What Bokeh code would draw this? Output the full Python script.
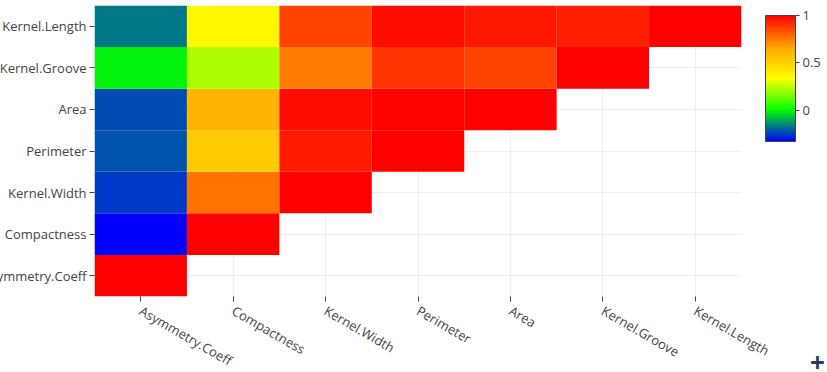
from bokeh.plotting import figure
from bokeh.models import (ColumnDataSource, LinearColorMapper, ColorBar, FixedTicker,
                          FactorRange, Label)
from bokeh.embed import file_html
from bokeh.resources import INLINE
import math

# ---- data ----
variables = ["Asymmetry.Coeff", "Compactness", "Kernel.Width", "Perimeter",
             "Area", "Kernel.Groove", "Kernel.Length"]
row_asym = [1.0]
row_compact = [-0.331, 1.0]
row_width = [-0.258, 0.762, 1.0]
row_perim = [-0.217, 0.529, 0.945, 1.0]
row_area = [-0.230, 0.608, 0.971, 0.994, 1.0]
row_groove = [-0.011, 0.227, 0.749, 0.891, 0.864, 1.0]
row_length = [-0.172, 0.368, 0.860, 0.972, 0.950, 0.933, 1.0]
rows = [row_asym, row_compact, row_width, row_perim, row_area, row_groove, row_length]
cbar_ticks = [0, 0.5, 1]
cbar_labels = ["0", "0.5", "1"]

xs, ys, rs = [], [], []
for j, row in enumerate(rows):
    for i, v in enumerate(row):
        xs.append(variables[i]); ys.append(variables[j]); rs.append(v)

# colorscale stops: blue, lime, yellow, orange, red
stops = [(0.0, (0, 0, 255)), (0.25, (0, 255, 0)), (0.5, (255, 255, 0)),
         (0.75, (255, 165, 0)), (1.0, (255, 0, 0))]
def interp(t):
    for k in range(len(stops) - 1):
        t0, c0 = stops[k]; t1, c1 = stops[k + 1]
        if t <= t1:
            f = (t - t0) / (t1 - t0)
            return "#%02x%02x%02x" % tuple(int(round(c0[m] + (c1[m] - c0[m]) * f)) for m in range(3))
    return "#ff0000"
palette = [interp(k / 255) for k in range(256)]
mapper = LinearColorMapper(palette=palette, low=min(rs), high=max(rs))
src = ColumnDataSource(dict(x=xs, y=ys, r=rs))

FONT = "Open Sans"
p = figure(width=863, height=380, x_range=FactorRange(*variables), y_range=FactorRange(*variables),
           output_backend="svg", toolbar_location=None,
           min_border_left=130, min_border_right=86, min_border_top=5, min_border_bottom=84)
p.outline_line_color = None
p.rect(x="x", y="y", width=1, height=1, source=src,
       fill_color={"field": "r", "transform": mapper}, line_color=None)
p.grid.grid_line_color = "#eeeeee"
for ax in (p.xaxis, p.yaxis):
    ax.axis_line_color = None
    ax.major_tick_in = 0
    ax.major_tick_out = 5
    ax.major_tick_line_color = "#444444"
    ax.major_label_text_font = FONT
    ax.major_label_text_font_size = "13px"
    ax.major_label_text_color = "#444444"
p.xaxis.major_label_orientation = -math.pi / 6
p.xaxis.major_label_standoff = 8
p.yaxis.major_label_standoff = 3

cb = ColorBar(color_mapper=mapper, ticker=FixedTicker(ticks=cbar_ticks),
              major_label_overrides={t: l for t, l in zip(cbar_ticks, cbar_labels)},
              width=30, height=126, padding=0, margin=0, location=(671, 155),
              bar_line_color="#444444", bar_line_width=1,
              major_tick_in=0, major_tick_out=4, major_tick_line_color="#444444",
              major_label_text_font=FONT, major_label_text_font_size="13px",
              major_label_text_color="#444444", label_standoff=3,
              background_fill_color=None, border_line_color=None)
p.add_layout(cb, "center")

plus = Label(x=76, y=-66, x_units="screen", y_units="screen", text="+",
             text_font=FONT, text_font_size="26px", text_font_style="bold",
             text_color="#2a3f5f", text_align="center", text_baseline="middle")
p.add_layout(plus, "right")

p.styles = {"margin-left": "-36px"}

open("out.html", "w").write(file_html(p, INLINE))
